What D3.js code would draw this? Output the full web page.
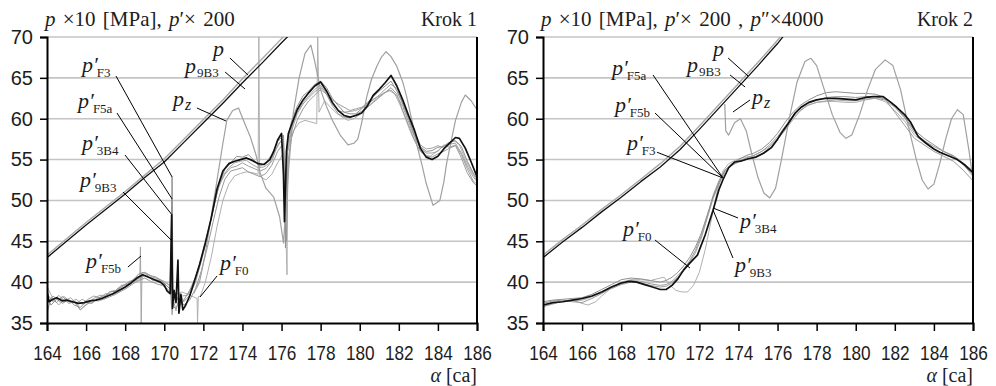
<!DOCTYPE html>
<html><head><meta charset="utf-8">
<script src="https://cdn.jsdelivr.net/npm/d3@7"></script>
<style>body{margin:0;background:#fff}svg{display:block}</style>
</head><body><svg id="chart" width="996" height="386"></svg>
<script>
// Axis ticks
const alphaTicks = [164,166,168,170,172,174,176,178,180,182,184,186];
const valueTicks = [35,40,45,50,55,60,65,70];

// ---------- Krok 1 ----------
const k1_p = [[164,43],[165,45],[166,47],[167,48.9],[168,50.8],[169,52.8],[170,54.7],[171,57.1],[172,59.5],[173,61.9],[174,64.4],[175,66.8],[176,69.3],[176.8,71.2]];
const k1_p9B3 = [[164,43.3],[165,45.3],[166,47.3],[167,49.2],[168,51.1],[169,53.1],[170,55.1],[171,57.5],[172,59.9],[173,62.3],[174,64.9],[175,67.3],[176,69.8],[176.8,71.7]];
const k1_pz = [[171.5,38.6],[171.8,40],[172.1,43.5],[172.4,48],[172.7,52.5],[173,57],[173.2,59.8],[173.5,61],[173.8,61.3],[174.1,59.5],[174.4,57.8],[174.7,55.5],[174.9,53.4],[175.2,51.5],[175.6,50.4],[175.9,48],[176.1,44.8],[176.3,52],[176.6,60.7],[176.9,65],[177.2,68],[177.5,69],[177.7,67],[178,63.5],[178.3,61.5],[178.6,59.8],[179,58],[179.4,56.8],[179.7,57],[179.9,57.5],[180.1,59.5],[180.36,62.7],[180.6,64.8],[180.87,66.4],[181.1,67.5],[181.35,68.2],[181.6,67.6],[181.9,66.4],[182.2,64.5],[182.4,62.7],[182.7,59.5],[182.9,57],[183.2,54.2],[183.4,52.1],[183.75,49.4],[184.1,50],[184.3,52.2],[184.45,54.6],[184.7,57.5],[184.9,59.8],[185.2,62],[185.4,62.9],[185.7,62.2],[186,61.1]];
const k1_d3B4 = [[164,39.0],[164.1,37.6],[164.3,37.9],[164.5,38.1],[164.8,37.7],[165,37.8],[165.3,37.6],[165.6,37.4],[165.9,37.5],[166.2,37.7],[166.5,37.8],[166.8,38.0],[167.1,38.3],[167.4,38.6],[167.7,39.0],[168,39.4],[168.3,39.9],[168.6,40.5],[168.9,40.9],[169.2,40.6],[169.5,40.3],[169.8,40.0],[170,39.6],[170.15,38.9],[170.3,38.6],[170.38,48.2],[170.42,36.8],[170.5,39],[170.6,37.5],[170.7,42.7],[170.75,36.2],[170.85,38.5],[170.95,36.6],[171.1,37.2],[171.3,38.3],[171.5,39.8],[171.8,42.1],[172.1,44.8],[172.4,47.8],[172.7,51.4],[173,53.6],[173.3,54.5],[173.6,54.8],[173.9,55.0],[174.2,55.2],[174.5,54.9],[174.8,54.5],[175.1,54.4],[175.4,55.0],[175.6,56.0],[175.8,57.4],[176,58.2],[176.1,53],[176.15,47.4],[176.25,56],[176.35,58.2],[176.5,59.2],[176.8,61.1],[177.1,62.3],[177.4,63.2],[177.7,64.0],[178,64.5],[178.3,63.4],[178.6,62.0],[178.9,61.0],[179.2,60.4],[179.5,60.2],[179.8,60.4],[180.1,60.7],[180.4,61.6],[180.7,62.9],[181,63.6],[181.3,64.4],[181.6,65.3],[181.9,64.0],[182.2,62.3],[182.5,60.4],[182.8,58.6],[183.1,56.4],[183.4,55.3],[183.7,55.0],[184,55.4],[184.3,56.3],[184.6,57.0],[184.9,57.7],[185.1,57.6],[185.4,56.4],[185.7,54.7],[186,52.9]];
const k1_dF3 = [[164,38.2],[164.2,37.2],[164.5,37.9],[164.8,37.4],[165.1,37.9],[165.4,37.2],[165.7,36.9],[166,37.6],[166.3,37.4],[166.6,38.1],[166.9,38.2],[167.2,38.8],[167.5,38.9],[167.8,39.6],[168.1,39.7],[168.4,40.3],[168.7,41],[169,41.2],[169.3,40.8],[169.6,40.6],[169.9,40.1],[170.2,39.4],[170.36,39],[170.4,52.9],[170.45,37.5],[170.6,38.5],[170.8,37.2],[171,37.8],[171.3,39],[171.6,40.6],[171.9,43],[172.2,45.8],[172.5,48.8],[172.8,52],[173.1,53.8],[173.4,54.6],[173.7,55.4],[174,55.3],[174.3,55.6],[174.6,54.9],[174.9,54.2],[175.2,54.6],[175.5,55.6],[175.8,57.2],[176.1,58],[176.2,44.2],[176.3,57],[176.5,59.6],[176.8,61.5],[177.1,62.8],[177.4,63.4],[177.7,64.2],[178,64.6],[178.3,63.8],[178.6,62.5],[178.9,61.6],[179.2,60.8],[179.5,60.6],[179.8,60.6],[180.1,61.2],[180.4,62],[180.7,62.7],[181,63.4],[181.3,64],[181.6,64.6],[181.9,63.4],[182.2,61.8],[182.5,60],[182.8,58],[183.1,56.6],[183.4,56],[183.7,56.1],[184,56.5],[184.3,56.6],[184.6,57.1],[184.9,57.3],[185.2,56.6],[185.5,54.8],[185.8,53.4],[186,52.6]];
const k1_dF5a = [[164,37.5],[164.3,38.3],[164.6,37.8],[164.9,38.2],[165.2,37.6],[165.5,37.9],[165.8,37.3],[166.1,37.9],[166.4,38.3],[166.7,38.1],[167,38.6],[167.3,38.5],[167.6,39.2],[167.9,39.5],[168.2,40.1],[168.5,40.2],[168.8,40.6],[169.1,40.9],[169.4,40.2],[169.7,40.3],[170,39.8],[170.3,39.2],[170.38,50.2],[170.45,38],[170.6,36.5],[170.8,38.6],[171,37.6],[171.3,38.4],[171.6,40],[171.9,42.6],[172.2,45.5],[172.5,49],[172.8,51.8],[173.1,53.2],[173.4,54],[173.7,54.2],[174,54.6],[174.3,54.2],[174.6,53.9],[174.9,53.6],[175.2,53.9],[175.5,54.8],[175.8,56.8],[176.1,57.6],[176.2,49],[176.3,56],[176.5,58.4],[176.8,60.6],[177.1,61.8],[177.4,62.6],[177.7,63.3],[178,63.8],[178.3,63.3],[178.6,62.3],[178.9,61.8],[179.2,61.4],[179.5,61],[179.8,61.2],[180.1,61.4],[180.4,61.9],[180.7,62.4],[181,62.8],[181.3,63.2],[181.6,63.5],[181.9,62.8],[182.2,61.5],[182.5,59.6],[182.8,57.8],[183.1,56.4],[183.4,55.8],[183.7,55.8],[184,56],[184.3,56.8],[184.6,56.5],[184.9,56.8],[185.2,55.6],[185.5,53.9],[185.8,52.4],[186,52]];
const k1_d9B3 = [[164,36.2],[164.2,38],[164.5,37.5],[164.8,38.3],[165.1,37.4],[165.4,37.6],[165.7,36.6],[166,37.2],[166.3,37.8],[166.6,37.7],[166.9,37.9],[167.2,38.2],[167.5,38.5],[167.8,38.9],[168.1,39.3],[168.4,39.8],[168.7,40.2],[169,40.5],[169.3,40.1],[169.6,39.8],[169.9,39.6],[170.2,39.1],[170.36,38.6],[170.4,45.2],[170.45,37],[170.6,36.8],[170.8,37.9],[171,37.2],[171.3,37.8],[171.6,39.2],[171.9,41.4],[172.2,44.2],[172.5,47.4],[172.8,50.4],[173.1,52.6],[173.4,53.6],[173.7,53.8],[174,54],[174.3,53.5],[174.6,53.2],[174.9,52.9],[175.2,53.3],[175.5,54.3],[175.8,56],[176.1,57],[176.25,45],[176.35,55],[176.5,57.6],[176.8,59.8],[177.1,61.2],[177.4,62.2],[177.7,62.9],[178,63.6],[178.3,63],[178.6,61.6],[178.9,60.6],[179.2,60.2],[179.5,60.1],[179.8,60.5],[180.1,60.9],[180.4,61.4],[180.7,62],[181,62.6],[181.3,63.2],[181.6,63.8],[181.9,63],[182.2,61],[182.5,59.2],[182.8,57.4],[183.1,56],[183.4,55.4],[183.7,55.3],[184,55.7],[184.3,56],[184.6,56.4],[184.9,56.7],[185.2,55.2],[185.5,53.4],[185.8,52.2],[186,51.8]];
const k1_dF5b = [[164,38.6],[164.3,37.6],[164.6,38.4],[164.9,37.6],[165.2,38.1],[165.5,37.4],[165.8,37.9],[166.1,37.5],[166.4,38],[166.7,38.4],[167,38.3],[167.3,38.9],[167.6,39],[167.9,39.6],[168.2,40],[168.5,40.4],[168.75,40.8],[168.78,44.3],[168.82,35],[168.86,41.2],[169.1,41],[169.4,40.6],[169.7,40.4],[170,40.1],[170.3,39.5],[170.4,36],[170.5,38.6],[170.7,37.8],[170.9,38.3],[171.2,38.4],[171.5,39.7],[171.8,42],[172.1,44.6],[172.4,47.8],[172.7,51],[173,53],[173.3,54],[173.6,54.6],[173.9,54.8],[174.2,54.9],[174.5,54.4],[174.8,54],[175.1,54.1],[175.4,54.6],[175.7,56.2],[176,57.4],[176.2,52],[176.3,56.5],[176.5,58.8],[176.8,60.8],[177.1,62],[177.4,62.8],[177.7,63.6],[178,64.1],[178.3,63],[178.6,61.8],[178.9,61],[179.2,60.8],[179.5,60.9],[179.8,61],[180.1,61.3],[180.4,61.8],[180.7,62.3],[181,62.9],[181.3,63.6],[181.6,64.2],[181.9,63.7],[182.2,62],[182.5,60.2],[182.8,58.3],[183.1,56.8],[183.4,56.3],[183.7,56.4],[184,56.7],[184.3,56.4],[184.6,56.9],[184.9,57],[185.2,55.8],[185.5,54.2],[185.8,52.9],[186,52.3]];
const k1_dF0 = [[164,39.5],[164.3,38],[164.6,37.2],[164.9,38],[165.2,37.5],[165.5,37.6],[165.7,36.6],[166,37.3],[166.3,37.5],[166.6,37.9],[166.9,38],[167.2,38.4],[167.5,38.6],[167.8,39],[168.1,39.5],[168.4,40],[168.7,40.3],[169,40.8],[169.3,40.5],[169.6,40.2],[169.9,40],[170.2,39.8],[170.4,39.2],[170.6,38.5],[170.9,38.8],[171.2,38.5],[171.5,38.2],[171.68,38],[171.7,35],[171.74,38.2],[171.85,38.3],[172.1,40],[172.4,43],[172.7,46.8],[173,50],[173.3,52],[173.6,53],[173.9,53.3],[174.2,53.5],[174.5,53.4],[174.8,53.2],[174.84,70],[174.88,53],[175.2,52.5],[175.5,53.2],[175.8,54.6],[176.1,55.8],[176.28,40.9],[176.32,56],[176.6,58.5],[176.9,59.5],[177.2,59.8],[177.5,59.6],[177.8,59.4],[177.85,70],[177.92,60.8],[178.2,62.2],[178.5,61.4],[178.8,60.7],[179.1,60.2],[179.4,59.8],[179.7,60],[180,60.5],[180.3,61.2],[180.6,61.9],[180.9,62.5],[181.2,63.1],[181.5,63.5],[181.8,63],[182.1,61.5],[182.4,59.6],[182.7,57.8],[183,56.4],[183.3,55.6],[183.6,55.4],[183.9,55.9],[184.2,56.5],[184.5,57],[184.8,57.4],[185.1,56.8],[185.4,55],[185.7,53.6],[186,52.4]];

// ---------- Krok 2 ----------
const k2_p = [[164,43],[165,44.9],[166,46.7],[167,48.6],[168,50.4],[169,52.3],[170,54.1],[171,56.2],[172,58.7],[173,61.3],[174,63.9],[175,66.5],[176,69.2],[176.6,71]];
const k2_p9B3 = [[164,43.3],[165,45.2],[166,47],[167,48.9],[168,50.7],[169,52.6],[170,54.5],[171,56.6],[172,59.1],[173,61.7],[174,64.3],[175,66.9],[176,69.6],[176.6,71.4]];
const k2_pz = [[173.3,61.8],[173.35,58.5],[173.5,58],[173.8,59.5],[174.1,60],[174.4,58.5],[174.7,55.5],[175,52.8],[175.3,50.9],[175.6,50.3],[175.9,51.5],[176.2,55],[176.6,60],[177,64.5],[177.4,67],[177.7,67.4],[178,66.5],[178.4,63.5],[178.8,60.5],[179.2,58.3],[179.5,57.6],[179.8,58],[180.2,60.5],[180.6,63.5],[181,66],[181.5,67.2],[181.9,66.5],[182.3,63.5],[182.7,59],[183.1,55],[183.4,52.5],[183.7,51.4],[184,52],[184.3,54.5],[184.6,57.5],[184.9,60],[185.2,61.1],[185.5,60.5],[185.8,56],[186,52.5]];
const k2_d3B4 = [[164,37.2],[164.5,37.5],[165,37.6],[165.5,37.8],[166,38.0],[166.5,38.3],[167,38.8],[167.5,39.4],[168,39.9],[168.4,40.1],[168.8,40.0],[169.2,39.7],[169.6,39.4],[170,39.1],[170.3,39.1],[170.6,39.6],[170.9,40.4],[171.2,41.5],[171.5,42.3],[171.9,43.3],[172.3,45.8],[172.7,48.8],[173,51.3],[173.2,52.5],[173.5,54],[173.8,54.7],[174.1,54.8],[174.5,55.1],[174.9,55.3],[175.3,55.8],[175.7,56.5],[176,57.5],[176.3,58.6],[176.6,59.6],[176.9,60.7],[177.2,61.4],[177.6,62],[178,62.3],[178.5,62.5],[179,62.5],[179.5,62.4],[180,62.3],[180.5,62.6],[180.9,62.7],[181.4,62.7],[181.8,62],[182.1,61.4],[182.5,60.5],[182.8,59.6],[183.2,57.8],[183.6,57],[184,56.3],[184.3,55.9],[184.8,55.4],[185.2,55],[185.6,54.3],[186,53.4]];
const k2_dF3 = [[164,37.6],[164.5,37.8],[165,37.9],[165.5,38],[166,38.1],[166.5,38.5],[167,39.1],[167.5,39.7],[168,40.3],[168.5,40.5],[169,40.4],[169.5,40.2],[170,40],[170.3,40.2],[170.6,40.6],[170.9,41.2],[171.2,42],[171.5,43],[171.8,44.3],[172.1,46],[172.4,48.2],[172.7,50.4],[173,52.2],[173.3,53.6],[173.6,54.4],[174,55],[174.4,55.5],[174.8,55.8],[175.2,56.3],[175.6,57.1],[176,58.2],[176.4,59.6],[176.8,60.8],[177.2,61.7],[177.6,62.3],[178,62.8],[178.5,63.2],[179,63.3],[179.5,63.2],[180,63.1],[180.5,63.1],[181,63],[181.5,62.6],[182,61.6],[182.5,60.2],[183,58.6],[183.5,57.6],[184,56.8],[184.5,56],[185,55.4],[185.5,54.4],[186,53]];
const k2_dF5a = [[164,37],[164.5,37.4],[165,37.6],[165.5,37.7],[166,37.8],[166.5,38.2],[167,38.7],[167.5,39.2],[168,39.7],[168.5,40],[169,39.9],[169.5,39.6],[170,39.4],[170.3,39.5],[170.6,39.9],[170.9,40.6],[171.2,41.4],[171.5,42.4],[171.8,43.6],[172.1,45.4],[172.4,47.8],[172.7,50.2],[173,52],[173.3,53.4],[173.6,54.2],[174,54.7],[174.4,55],[174.8,55.3],[175.2,55.7],[175.6,56.4],[176,57.4],[176.4,58.8],[176.8,60.2],[177.2,61.1],[177.6,61.7],[178,62],[178.5,62.2],[179,62.3],[179.5,62.2],[180,62.2],[180.5,62.4],[181,62.5],[181.5,62.3],[182,61.4],[182.5,60.1],[183,58.3],[183.5,57.3],[184,56.6],[184.5,56],[185,55.5],[185.5,54.6],[186,53.6]];
const k2_d9B3 = [[164,37.4],[164.5,37.7],[165,37.8],[165.5,37.6],[166,37.5],[166.5,38],[167,38.6],[167.5,39.3],[168,39.8],[168.5,40.2],[169,40.1],[169.5,39.8],[170,39.6],[170.3,39.7],[170.6,40.1],[170.9,40.8],[171.2,41.6],[171.5,42.6],[171.8,43.9],[172.1,45.7],[172.4,48],[172.7,50.6],[173,52.4],[173.3,53.7],[173.6,54.3],[174,54.8],[174.4,55.2],[174.8,55.5],[175.2,56],[175.6,56.8],[176,57.8],[176.4,59.1],[176.8,60.4],[177.2,61.3],[177.6,61.9],[178,62.3],[178.5,62.6],[179,62.7],[179.5,62.7],[180,62.6],[180.5,62.7],[181,62.7],[181.5,62.4],[182,60.8],[182.5,59.2],[183,57.6],[183.5,56.8],[184,56],[184.5,55.4],[185,54.8],[185.5,53.7],[186,52.4]];
const k2_dF0 = [[164,37],[164.5,37.3],[165,37.7],[165.5,37.8],[166,37.4],[166.3,37.2],[166.7,37.6],[167,38.3],[167.5,39.3],[168,40],[168.5,40.3],[169,40.3],[169.5,40.2],[170,40.5],[170.2,40.6],[170.5,39.6],[170.8,39],[171.1,38.8],[171.4,38.8],[171.7,39.6],[172,41.2],[172.3,44],[172.6,47.5],[172.9,51],[173.2,53.6],[173.5,54.5],[173.9,55],[174.3,55.3],[174.7,55.4],[175.1,55.9],[175.5,56.4],[175.9,57.3],[176.3,58.3],[176.7,59.6],[177.1,60.8],[177.5,61.6],[178,62],[178.5,62.1],[179,62.1],[179.5,62],[180,62],[180.5,62.3],[181,62.5],[181.5,62.1],[182,61],[182.5,59.7],[183,58],[183.5,57.1],[184,56.3],[184.5,55.7],[185,55.2],[185.5,54.5],[186,53.2]];

// Pointer labels: [subscript, prime, label alpha, label value, from alpha, from value, to alpha, to value]
const k1_labels = [
  ['', false, 172.49, 67.68, 173.36, 67.43, 174.28, 65.35],
  ['9B3', false, 171.06, 65.6, 173.11, 65.72, 174.13, 63.64],
  ['z', false, 170.45, 61.56, 171.67, 61.31, 173.16, 59.72],
  ['F3', true, 165.79, 65.72, 167.53, 65.23, 170.40, 52.87],
  ['F5a', true, 165.59, 61.31, 167.58, 60.70, 170.40, 50.18],
  ['3B4', true, 165.79, 56.17, 167.99, 55.56, 170.40, 48.22],
  ['9B3', true, 165.69, 51.70, 167.89, 51.03, 170.40, 45.04],
  ['F5b', true, 166.00, 41.73, 168.14, 41.85, 168.81, 43.20],
  ['F0', true, 172.85, 41.49, 172.70, 40.75, 171.83, 38.18]
];
const k2_labels = [
  ['', false, 172.70, 67.68, 173.47, 67.43, 174.49, 65.23],
  ['9B3', false, 171.37, 65.72, 173.57, 65.35, 174.34, 63.88],
  ['z', false, 174.69, 61.80, 174.59, 62.29, 173.72, 60.82],
  ['F5a', true, 167.53, 65.35, 169.63, 65.35, 173.21, 52.75],
  ['F5b', true, 167.68, 60.82, 169.73, 60.70, 173.21, 52.75],
  ['F3', true, 168.30, 56.17, 169.83, 55.90, 173.21, 52.75],
  ['F0', true, 168.09, 45.65, 169.73, 45.16, 171.52, 41.73],
  ['3B4', true, 174.08, 46.63, 173.98, 47.85, 172.70, 49.07],
  ['9B3', true, 173.82, 41.24, 173.72, 42.95, 172.70, 48.83]
];

const svg = d3.select('#chart');
const plotTop = 37, plotBottom = 323;
const serif = "'Liberation Serif','Times New Roman',serif";
const sans = "'Liberation Sans',Arial,sans-serif";
const ink = '#1c1c1c';

function drawPanel(cfg) {
  const x = d3.scaleLinear().domain([164,186]).range([cfg.x0, cfg.x1]);
  const y = d3.scaleLinear().domain([35,70]).range([plotBottom, plotTop]);
  const g = svg.append('g');

  // horizontal grid
  g.selectAll('.grid').data(valueTicks.filter(v => v > 35)).enter().append('line')
    .attr('x1', cfg.x0).attr('x2', cfg.x1)
    .attr('y1', d => y(d)).attr('y2', d => y(d))
    .attr('stroke', '#c4c4c4').attr('stroke-width', 1.6);

  const clipId = 'clip' + cfg.id;
  svg.append('clipPath').attr('id', clipId).append('rect')
    .attr('x', cfg.x0).attr('y', plotTop).attr('width', cfg.x1 - cfg.x0).attr('height', plotBottom - plotTop);

  const line = d3.line().x(d => x(d[0])).y(d => y(d[1]));
  const lg = g.append('g').attr('clip-path', `url(#${clipId})`);
  cfg.series.forEach(s => {
    lg.append('path').datum(s.data).attr('d', line)
      .attr('fill', 'none').attr('stroke', s.color).attr('stroke-width', s.w)
      .attr('stroke-linejoin', 'round');
  });

  // axes
  const yAxis = d3.axisLeft(y).tickValues(valueTicks).tickSize(7).tickFormat(d3.format('d'));
  const ya = g.append('g').attr('transform', `translate(${cfg.x0},0)`).call(yAxis);
  ya.select('.domain').attr('stroke', '#000').attr('stroke-width', 2);
  ya.selectAll('.tick line').attr('stroke', '#000').attr('stroke-width', 1.5);
  ya.selectAll('.tick text').attr('font-family', sans).attr('font-size', 20).attr('fill', ink).attr('x', -14);

  const xAxis = d3.axisBottom(x).tickValues(alphaTicks).tickSize(8).tickFormat(d3.format('d'));
  const xa = g.append('g').attr('transform', `translate(0,${plotBottom})`).call(xAxis);
  xa.select('.domain').attr('stroke', '#000').attr('stroke-width', 2);
  xa.selectAll('.tick line').attr('stroke', '#000').attr('stroke-width', 1.5);
  xa.selectAll('.tick text').attr('font-family', sans).attr('font-size', 21).attr('fill', ink)
    .attr('y', 0).attr('dy', 0)
    .attr('transform', 'translate(0,37) scale(0.82,1)');

  // right frame
  g.append('line').attr('x1', cfg.x1).attr('x2', cfg.x1).attr('y1', plotTop).attr('y2', plotBottom)
    .attr('stroke', '#000').attr('stroke-width', 2);

  // title
  const t = g.append('text').attr('x', cfg.x0 - 2).attr('y', 26)
    .attr('font-family', serif).attr('font-size', 21).attr('word-spacing', 2).attr('fill', ink);
  cfg.title.forEach(part => {
    t.append('tspan').attr('font-style', part[1] ? 'italic' : 'normal').text(part[0]);
  });
  g.append('text').attr('x', cfg.x1).attr('y', 26).attr('text-anchor', 'end')
    .attr('font-family', serif).attr('font-size', 20).attr('fill', ink).text(cfg.step);

  // axis title
  const at = g.append('text').attr('x', cfg.x1).attr('y', 382).attr('text-anchor', 'end')
    .attr('font-family', serif).attr('font-size', 20).attr('fill', ink);
  at.append('tspan').attr('font-style', 'italic').text('α');
  at.append('tspan').text(' [ca]');

  // pointer labels
  cfg.labels.forEach(L => {
    const [sub, prime, la, lv, fa, fv, ta, tv] = L;
    g.append('line').attr('x1', x(fa)).attr('y1', y(fv)).attr('x2', x(ta)).attr('y2', y(tv))
      .attr('stroke', '#000').attr('stroke-width', 1);
    const tx = g.append('text').attr('x', x(la)).attr('y', y(lv))
      .attr('font-family', serif).attr('fill', ink);
    tx.append('tspan').attr('font-style', 'italic').attr('font-size', 22).text(prime ? 'p′' : 'p');
    if (sub) {
      const isZ = sub === 'z';
      tx.append('tspan').attr('font-size', isZ ? 16 : 13).attr('font-style', isZ ? 'italic' : 'normal')
        .attr('dx', prime ? -1 : 1).attr('dy', prime ? 5 : 4).text(sub);
    }
  });
}

drawPanel({
  id: 1, x0: 47, x1: 477, step: 'Krok 1',
  title: [['p', true], [' ×10 [MPa], ', false], ['p', true], ['′× 200', false]],
  series: [
    {data: k1_dF0, color: '#b0b0b0', w: 1},
    {data: k1_dF5b, color: '#a4a4a4', w: 1},
    {data: k1_d9B3, color: '#9a9a9a', w: 1},
    {data: k1_dF5a, color: '#a0a0a0', w: 1},
    {data: k1_dF3, color: '#909090', w: 1},
    {data: k1_pz, color: '#a0a0a0', w: 1.2},
    {data: k1_d3B4, color: '#111', w: 1.7},
    {data: k1_p9B3, color: '#a8a8a8', w: 1.4},
    {data: k1_p, color: '#111', w: 1.3}
  ],
  labels: k1_labels
});

drawPanel({
  id: 2, x0: 543, x1: 973, step: 'Krok 2',
  title: [['p', true], [' ×10 [MPa], ', false], ['p', true], ['′× 200 , ', false], ['p', true], ['″×4000', false]],
  series: [
    {data: k2_dF0, color: '#b0b0b0', w: 1},
    {data: k2_d9B3, color: '#9a9a9a', w: 1},
    {data: k2_dF5a, color: '#a0a0a0', w: 1},
    {data: k2_dF3, color: '#909090', w: 1},
    {data: k2_pz, color: '#a0a0a0', w: 1.2},
    {data: k2_d3B4, color: '#111', w: 1.7},
    {data: k2_p9B3, color: '#a8a8a8', w: 1.4},
    {data: k2_p, color: '#111', w: 1.3}
  ],
  labels: k2_labels
});
</script>
</body></html>
